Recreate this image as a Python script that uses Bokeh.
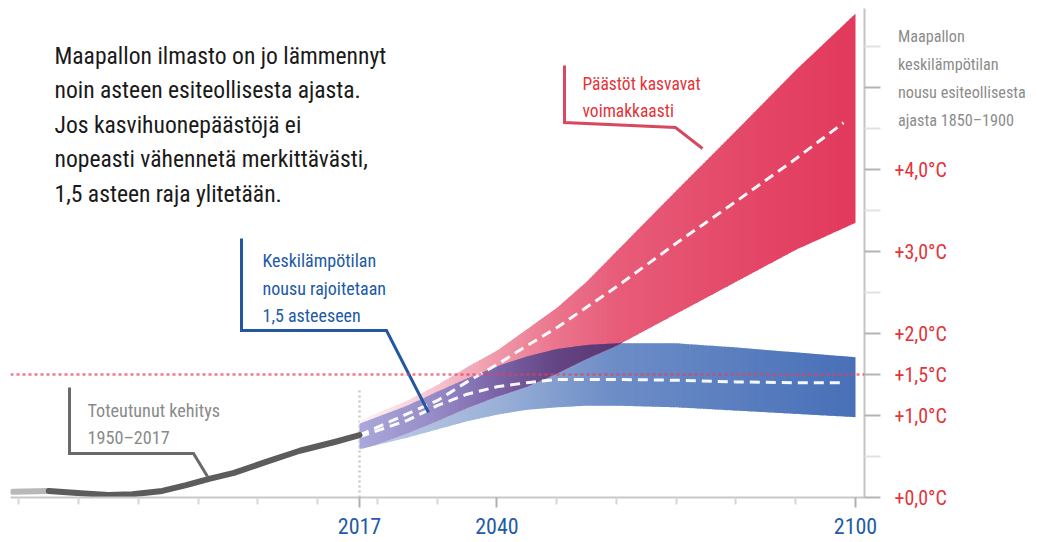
import numpy as np
from bokeh.plotting import figure
from bokeh.models import Range1d, FixedTicker, Label, Span
from bokeh.embed import file_html
from bokeh.resources import INLINE

# ---------------- data ----------------
years = [2017, 2025, 2030, 2035, 2040, 2045, 2050, 2055, 2060, 2070, 2080, 2090, 2100]
red_high = [0.94, 1.18, 1.37, 1.59, 1.79, 2.05, 2.31, 2.63, 3.00, 3.74, 4.47, 5.21, 5.90]
red_low = [0.57, 0.78, 0.93, 1.09, 1.23, 1.35, 1.51, 1.69, 1.85, 2.24, 2.63, 3.02, 3.35]
blue_high = [0.90, 1.12, 1.29, 1.45, 1.60, 1.72, 1.81, 1.86, 1.88, 1.88, 1.83, 1.77, 1.71]
blue_low = [0.59, 0.73, 0.83, 0.93, 1.01, 1.07, 1.10, 1.12, 1.12, 1.10, 1.06, 1.02, 0.98]

median_years = [2017, 2025, 2030, 2035, 2040, 2045, 2050, 2060, 2070, 2080, 2090, 2098]
red_median = [0.76, 1.02, 1.18, 1.41, 1.62, 1.85, 2.07, 2.57, 3.10, 3.61, 4.13, 4.57]
blue_median = [0.74, 0.94, 1.12, 1.26, 1.35, 1.40, 1.44, 1.44, 1.43, 1.41, 1.40, 1.40]

hist_years = [1959, 1965, 1971, 1975, 1979, 1984, 1988, 1992, 1996, 2002, 2007, 2013, 2017]
hist_temp = [0.07, 0.08, 0.05, 0.03, 0.04, 0.08, 0.15, 0.23, 0.30, 0.45, 0.57, 0.68, 0.76]

limit_temp = 1.5

x_major_ticks = [2017, 2040, 2100]
x_minor_ticks = [1960, 1970, 1980, 1990, 2000, 2010, 2020, 2030, 2050, 2060, 2070, 2080, 2090]
y_major_ticks = [0, 1, 1.5, 2, 3, 4, 5]
y_minor_ticks = [0.5, 2.5, 3.5, 4.5, 5.5]
y_tick_labels = ["+0,0°C", "+1,0°C", "+1,5°C", "+2,0°C", "+3,0°C", "+4,0°C", ""]

main_text = ["Maapallon ilmasto on jo lämmennyt",
             "noin asteen esiteollisesta ajasta.",
             "Jos kasvihuonepäästöjä ei",
             "nopeasti vähennetä merkittävästi,",
             "1,5 asteen raja ylitetään."]
red_text = ["Päästöt kasvavat", "voimakkaasti"]
blue_text = ["Keskilämpötilan", "nousu rajoitetaan", "1,5 asteeseen"]
hist_text = ["Toteutunut kehitys", "1950–2017"]
axis_title = ["Maapallon", "keskilämpötilan", "nousu esiteollisesta", "ajasta 1850–1900"]

# ---------------- layout helpers (image pixels -> data) ----------------
PX_YEAR = (855 - 359) / 83.0
PX_DEG = 82.0
def dx(px):
    return 2017 + (px - 359) / PX_YEAR
def dy(py):
    return (497 - py) / PX_DEG

FONT = "'Roboto Condensed', 'Noto Sans Condensed', 'Open Sans Condensed', 'DejaVu Sans Condensed', 'Liberation Sans Narrow', sans-serif"

p = figure(width=1037, height=542, output_backend="svg", toolbar_location=None,
           x_range=Range1d(dx(10), dx(864)), y_range=Range1d(0, dy(8)),
           y_axis_location="right", min_border_left=10, min_border_top=8,
           min_border_right=173, min_border_bottom=45)
p.outline_line_color = None
p.grid.visible = False
p.background_fill_color = "white"
p.border_fill_color = "white"

# x axis
xa = p.xaxis[0]
xa.ticker = FixedTicker(ticks=x_major_ticks, minor_ticks=x_minor_ticks)
xa.axis_line_color = "#c8c8c8"
xa.axis_line_width = 2
xa.major_tick_line_color = "#b0b0b0"
xa.major_tick_line_width = 2
xa.major_tick_out = 10
xa.major_tick_in = 0
xa.minor_tick_line_color = "#d6d6d6"
xa.minor_tick_line_width = 2
xa.minor_tick_out = 7
xa.minor_tick_in = 0
xa.major_label_text_color = "#1f5ca8"
xa.major_label_text_font = FONT
xa.major_label_text_font_size = "22px"
xa.major_label_standoff = 10

# y axis (right)
ya = p.yaxis[0]
ya.ticker = FixedTicker(ticks=y_major_ticks, minor_ticks=y_minor_ticks)
ya.major_label_overrides = {t: s for t, s in zip(y_major_ticks, y_tick_labels)}
ya.axis_line_color = "#c4c4c4"
ya.axis_line_width = 2
ya.major_tick_line_color = "#b4b4b4"
ya.major_tick_line_width = 2
ya.major_tick_out = 16
ya.major_tick_in = 0
ya.minor_tick_line_color = "#e2e2e2"
ya.minor_tick_line_width = 2
ya.minor_tick_out = 16
ya.minor_tick_in = 0
ya.major_label_text_color = "#e3343a"
ya.major_label_text_font = FONT
ya.major_label_text_font_size = "20px"
ya.major_label_standoff = 14
# axis title, pushed to the top of the axis (blank lines shift it down)
ya.axis_label = "\n" * 5 + "\n".join(axis_title)
ya.axis_label_orientation = "horizontal"
ya.axis_label_text_color = "#8c8c8c"
ya.axis_label_text_font = FONT
ya.axis_label_text_font_size = "16.2px"
ya.axis_label_text_font_style = "normal"
ya.axis_label_text_align = "left"
ya.axis_label_text_line_height = 1.47
ya.axis_label_standoff = -52
ya.axis_label_align = "end"

# ---------------- gradient helpers ----------------
WHITE = np.array([255, 255, 255], float)
RED = np.array([226, 57, 92], float)
BLUE = np.array([72, 112, 184], float)
red_alpha_stops = ([2017, 2030, 2040, 2050, 2060, 2080, 2100], [0.05, 0.30, 0.52, 0.70, 0.82, 0.92, 1.0])
blue_alpha_stops = ([2017, 2030, 2040, 2050, 2060, 2080, 2100], [0.35, 0.45, 0.55, 0.68, 0.80, 0.90, 1.0])
ov_stops = [2017, 2030, 2040, 2050, 2060]
ov_cols = np.array([[170, 168, 218], [150, 138, 198], [122, 100, 168], [100, 68, 132], [90, 55, 115]], float)

def hexc(c):
    c = np.clip(np.round(c), 0, 255).astype(int)
    return "#%02x%02x%02x" % tuple(c)

def faded(base, stops):
    def f(x):
        a = np.interp(x, stops[0], stops[1])
        return hexc(base * a + WHITE * (1 - a))
    return f

def overlap_color(x):
    return hexc([np.interp(x, ov_stops, ov_cols[:, k]) for k in range(3)])

def slices(lo_fn, hi_fn, color_fn, x0, x1, step=0.5, eps=0.15):
    g = np.arange(x0, x1 + 1e-9, step)
    xs, ys, cs = [], [], []
    for i in range(len(g) - 1):
        a, b = g[i], min(g[i + 1] + eps, x1)
        la, lb, ha, hb = lo_fn(a), lo_fn(b), hi_fn(a), hi_fn(b)
        if ha <= la and hb <= lb:
            continue
        ha, hb = max(ha, la), max(hb, lb)
        xs.append([a, b, b, a])
        ys.append([la, lb, hb, ha])
        cs.append(color_fn(0.5 * (a + b)))
    return xs, ys, cs

def itp(arr):
    return lambda x: float(np.interp(x, years, arr))

# 2017 marker line (dotted)
p.segment(x0=[hist_years[-1]], y0=[0], x1=[hist_years[-1]], y1=[dy(390)],
          line_color="#c8c8c8", line_width=2.5, line_dash="2 3")

# bands
bx, by, bc = slices(itp(blue_low), itp(blue_high), faded(BLUE, blue_alpha_stops), years[0], years[-1])
p.patches(xs=bx, ys=by, fill_color=bc, line_color=None)
rx, ry, rc = slices(itp(red_low), itp(red_high), faded(RED, red_alpha_stops), years[0], years[-1])
p.patches(xs=rx, ys=ry, fill_color=rc, line_color=None)
ov_lo = lambda x: max(itp(red_low)(x), itp(blue_low)(x))
ov_hi = lambda x: min(itp(red_high)(x), itp(blue_high)(x))
ox, oy, oc = slices(ov_lo, ov_hi, overlap_color, years[0], years[-1])
p.patches(xs=ox, ys=oy, fill_color=oc, line_color=None)

# medians
p.line(median_years, red_median, line_color="white", line_width=3, line_dash="10 6", line_alpha=0.95)
p.line(median_years, blue_median, line_color="white", line_width=3, line_dash="10 6", line_alpha=0.95)

# 1.5 limit
p.add_layout(Span(location=limit_temp, dimension="width", line_color="#e4405e",
                  line_dash="3 3", line_width=2.5, line_alpha=0.7))

# historical
p.line(hist_years[:2], hist_temp[:2], line_color="#b8b8b8", line_width=6, line_cap="round")
p.line(hist_years[1:], hist_temp[1:], line_color="#5c5c5c", line_width=6,
       line_cap="round", line_join="round")

# callout leader lines
def callout(pts, color):
    p.line([dx(a) for a, b in pts], [dy(b) for a, b in pts], line_color=color,
           line_width=3, line_join="miter")
callout([(564, 65), (564, 122), (675, 127), (702, 148)], "#d9485f")
callout([(241, 238), (241, 330), (386, 330), (428, 412)], "#2556a0")
callout([(69, 387), (69, 453), (193, 453), (207, 476)], "#6a6a6a")

# texts
def lines(txts, px, base, step, size, color, font=FONT):
    for i, t in enumerate(txts):
        p.add_layout(Label(x=dx(px), y=dy(base + i * step), text=t, text_font=font,
                           text_font_size=size, text_color=color, text_baseline="alphabetic",
                           text_align="left"))

lines(main_text, 54, 55, 34.6, "23.6px", "#1a1a1a")
lines(red_text, 582, 83, 27, "17.5px", "#e3343a")
lines(blue_text, 262, 260, 27.5, "18px", "#1d5aa6")
lines(hist_text, 87, 410, 27, "18.2px", "#8a8a8a")

open("out.html", "w").write(file_html(p, INLINE))
